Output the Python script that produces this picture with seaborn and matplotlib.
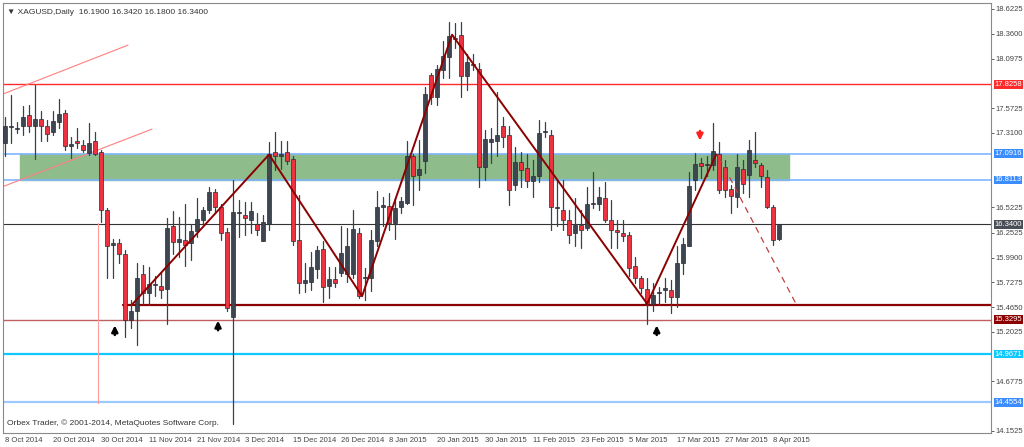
import numpy as np
import pandas as pd
import seaborn as sns
from matplotlib import pyplot as plt

# daily XAGUSD candles, 8 Oct 2014 - 10 Apr 2015
opens = [17.20, 17.37, 17.35, 17.38, 17.50, 17.38, 17.46, 17.38, 17.32, 17.43, 17.52, 17.17, 17.22, 17.18, 17.10, 17.22,
         17.11, 16.49, 16.12, 16.14, 16.03, 15.33, 15.42, 15.81, 15.61, 15.70, 15.69, 15.66, 16.32, 16.15, 16.18, 16.14,
         16.27, 16.39, 16.49, 16.68, 16.52, 16.26, 15.36, 16.46, 16.44, 16.39, 16.34, 16.16, 16.35, 17.11, 17.06, 17.11,
         17.03, 16.18, 15.72, 15.73, 15.87, 16.08, 15.69, 15.76, 15.83, 15.82, 15.82, 16.25, 15.77, 15.77, 16.16, 16.53,
         16.54, 16.36, 16.53, 16.57, 17.07, 16.86, 17.01, 17.92, 17.69, 17.98, 18.11, 18.30, 18.35, 17.91, 18.03, 17.99,
         16.95, 17.21, 17.22, 17.38, 17.29, 16.76, 17.00, 16.94, 16.80, 16.85, 17.32, 17.29, 16.51, 16.49, 16.39, 16.25,
         16.33, 16.30, 16.56, 16.56, 16.62, 16.39, 16.28, 16.25, 16.23, 15.90, 15.77, 15.66, 15.50, 15.61, 15.65, 15.65,
         15.57, 15.93, 16.11, 16.81, 16.99, 16.97, 16.97, 17.09, 16.95, 16.72, 16.63, 16.93, 16.86, 17.02, 16.97, 16.84,
         16.52, 16.19]
closes = [17.38, 17.37, 17.35, 17.48, 17.38, 17.46, 17.38, 17.30, 17.44, 17.51, 17.17, 17.19, 17.20, 17.13, 17.20, 17.09,
          16.49, 16.11, 16.14, 16.03, 15.33, 15.42, 15.77, 15.61, 15.71, 15.70, 15.65, 16.30, 16.15, 16.19, 16.12, 16.27,
          16.40, 16.49, 16.68, 16.52, 16.25, 15.45, 16.47, 16.46, 16.41, 16.48, 16.28, 16.37, 17.09, 17.06, 17.09, 17.01,
          16.16, 15.72, 15.75, 15.89, 16.07, 15.68, 15.76, 15.72, 16.04, 16.11, 16.29, 15.58, 15.77, 16.18, 16.53, 16.53,
          16.36, 16.51, 16.59, 17.06, 16.85, 16.93, 17.72, 17.69, 17.99, 18.12, 18.34, 18.30, 17.91, 18.06, 18.03, 16.95,
          17.25, 17.25, 17.29, 17.27, 16.71, 17.00, 16.92, 16.80, 16.85, 17.31, 17.32, 16.53, 16.51, 16.39, 16.23, 16.33,
          16.28, 16.56, 16.56, 16.63, 16.39, 16.28, 16.26, 16.22, 15.88, 15.77, 15.67, 15.50, 15.59, 15.61, 15.65, 15.57,
          15.93, 16.13, 16.75, 16.98, 16.96, 16.97, 17.12, 16.70, 16.70, 16.64, 16.95, 16.77, 17.13, 16.99, 16.85, 16.52,
          16.18, 16.34]
highs = [17.48, 17.71, 17.43, 17.59, 17.61, 17.82, 17.54, 17.45, 17.54, 17.67, 17.55, 17.27, 17.36, 17.23, 17.41, 17.32,
         17.13, 16.51, 16.19, 16.19, 16.07, 15.54, 15.93, 15.91, 15.89, 15.79, 15.84, 16.41, 16.48, 16.42, 16.56, 16.35,
         16.62, 16.53, 16.74, 16.72, 16.56, 16.30, 16.81, 16.60, 16.58, 16.58, 16.46, 16.44, 17.21, 17.32, 17.22, 17.22,
         17.06, 16.65, 15.93, 16.05, 16.11, 16.16, 15.89, 15.89, 16.32, 16.30, 16.49, 16.30, 15.88, 16.28, 16.69, 16.63,
         16.67, 16.62, 16.63, 17.22, 17.09, 17.23, 17.80, 17.94, 18.03, 18.28, 18.49, 18.47, 18.48, 18.15, 18.15, 18.05,
         17.34, 17.36, 17.74, 17.48, 17.38, 17.16, 17.11, 17.09, 17.02, 17.45, 17.43, 17.34, 16.81, 16.81, 16.49, 16.62,
         16.49, 16.74, 16.90, 16.74, 16.79, 16.60, 16.39, 16.39, 16.26, 16.00, 15.79, 15.77, 15.72, 15.68, 15.77, 15.75,
         16.11, 16.20, 16.90, 17.10, 17.04, 17.06, 17.42, 17.21, 17.02, 16.76, 17.09, 17.02, 17.23, 17.32, 16.99, 16.92,
         16.55, 16.342]
lows = [17.07, 17.20, 17.31, 17.29, 17.32, 17.03, 17.22, 17.22, 17.29, 17.36, 17.13, 17.04, 17.15, 17.11, 17.08, 17.08,
        16.37, 15.77, 15.77, 15.93, 15.15, 15.24, 15.06, 15.50, 15.49, 15.58, 15.56, 15.29, 16.03, 16.00, 15.90, 15.96,
        16.21, 16.35, 16.46, 16.46, 16.18, 15.42, 14.23, 16.21, 16.23, 16.25, 16.23, 16.16, 16.28, 16.92, 16.93, 16.98,
        16.12, 15.61, 15.62, 15.65, 15.77, 15.52, 15.56, 15.68, 15.79, 15.73, 15.77, 15.56, 15.54, 15.63, 16.11, 16.32,
        16.28, 16.19, 16.46, 16.56, 16.55, 16.70, 16.88, 17.62, 17.61, 17.89, 17.89, 18.21, 17.69, 17.76, 17.98, 16.74,
        16.81, 16.99, 17.06, 17.16, 16.55, 16.70, 16.74, 16.74, 16.63, 16.79, 17.27, 16.28, 16.32, 16.28, 16.14, 16.11,
        16.09, 16.28, 16.51, 16.49, 16.37, 16.09, 16.09, 16.16, 15.79, 15.72, 15.61, 15.29, 15.42, 15.49, 15.52, 15.40,
        15.47, 15.82, 16.11, 16.70, 16.83, 16.85, 16.92, 16.67, 16.63, 16.46, 16.53, 16.67, 16.63, 16.95, 16.74, 16.51,
        16.12, 16.18]

holidays = ['2014-12-25', '2015-01-01']
dates = [d for d in pd.bdate_range('2014-10-08', '2015-04-10') if d.strftime('%Y-%m-%d') not in holidays][:len(closes)]

# horizontal levels: (price, colour, width, label box colour)
levels = [(17.8258, '#ff2a2a', 1.0, '#ff2a2a'),
          (17.0916, '#7fb5ff', 1.2, '#3b8cff'),
          (16.8113, '#7fb5ff', 1.2, '#3b8cff'),
          (16.3400, '#333333', 0.8, '#4a4f57'),
          (15.3295, '#c06060', 1.0, '#8b0000'),
          (14.9671, '#10c8ff', 1.6, '#10c8ff'),
          (14.4554, '#9ccaff', 1.6, '#3b8cff')]
axis_ticks = [18.6225, 18.3600, 18.0975, 17.5725, 17.3100, 16.5225, 16.2525, 15.9900,
              15.7275, 15.4650, 15.2025, 14.6775, 14.1525]
zigzag_x = [21.3, 44, 59.5, 74.5, 107, 118.5]
zigzag_y = [15.50, 17.08, 15.58, 18.35, 15.50, 17.08]

df = pd.DataFrame({'Date': dates, 'Open': opens, 'High': highs, 'Low': lows, 'Close': closes})
df['i'] = np.arange(len(df))
df['bull'] = df['Close'] >= df['Open']

sns.set_style('white')
plt.rcParams['font.family'] = ['Liberation Sans', 'DejaVu Sans']
fig = plt.figure(figsize=(10.24, 4.47), dpi=100)
ax = fig.add_axes([3/1024, 14/447, 988/1024, 430/447])
ax.set_xlim(-0.33, 164.3)
ax.set_ylim(14.131, 18.686)

# support/resistance zone and levels
ax.fill_between([2.5, 130.7], 16.8113, 17.0916, color='#8fbc8b', zorder=1)
for price, col, lw, _ in levels:
    ax.axhline(price, color=col, lw=lw, zorder=2)
ax.plot([19.7, 164.3], [15.49, 15.49], color='#8b0000', lw=1.6, zorder=2)
ax.plot([-0.8, 20.5], [17.71, 18.24], color='#ff8080', lw=0.8, zorder=2)
ax.plot([-0.8, 24.5], [16.73, 17.35], color='#ff8080', lw=0.8, zorder=2)
ax.plot([15.5, 15.5], [16.36, 14.45], color='#ff9c9c', lw=0.8, zorder=2)

# candles
for _, r in df.iterrows():
    ax.plot([r['i'], r['i']], [r['Low'], r['High']], color='#3c4048', lw=0.9, zorder=3)
body_bottom = df[['Open', 'Close']].min(axis=1)
body_height = (df['Close'] - df['Open']).abs().clip(lower=0.012)
ax.bar(df['i'], body_height, bottom=body_bottom, width=0.68,
       color=np.where(df['bull'], '#3e4651', '#ee3340'), edgecolor='#2a2e34', lw=0.5, zorder=4)

# wave lines
sns.lineplot(x=zigzag_x, y=zigzag_y, color='#8b0000', lw=1.4, ax=ax, zorder=5, sort=False)
ax.plot([119, 131.8], [17.05, 15.50], color='#c04040', lw=0.9, ls=(0, (5, 4)), zorder=5)

# arrows
for xa, ya in [(18.3, 15.16), (35.5, 15.21), (108.6, 15.16)]:
    ax.annotate('', xy=(xa, ya + 0.14), xytext=(xa, ya - 0.02),
                arrowprops=dict(arrowstyle='-|>', color='black', lw=1.8, mutation_scale=9), zorder=6)
ax.annotate('', xy=(115.8, 17.20), xytext=(115.8, 17.36),
            arrowprops=dict(arrowstyle='-|>', color='#ff2020', lw=1.8, mutation_scale=9), zorder=6)

# axes styling
for s in ax.spines.values():
    s.set_color('#8a8a8a')
    s.set_linewidth(0.8)
ax.yaxis.tick_right()
ax.set_yticks(axis_ticks)
ax.set_yticklabels([f'{t:.4f}' for t in axis_ticks])
ticks_idx = list(range(0, len(df), 8))
ax.set_xticks(ticks_idx)
ax.set_xticklabels([f"{dates[k].day} {dates[k].strftime('%b %Y')}" for k in ticks_idx], ha='left')
ax.tick_params(axis='both', labelsize=5.5, colors='#444444', length=2, width=0.6, direction='out', pad=1)
for price, _, _, box in levels:
    ax.text(1.0035, price, f'{price:.4f}', transform=ax.get_yaxis_transform(), fontsize=5.5, color='white',
            va='center', ha='left', bbox=dict(boxstyle='square,pad=0.12', fc=box, ec='none'), zorder=7, clip_on=False)

ax.text(0.004, 0.985, '▼ XAGUSD,Daily  16.1900 16.3420 16.1800 16.3400', transform=ax.transAxes,
        fontsize=6, color='#333333', va='top')
ax.text(0.004, 0.015, 'Orbex Trader, © 2001-2014, MetaQuotes Software Corp.', transform=ax.transAxes,
        fontsize=6, color='#333333', va='bottom')

fig.savefig('out.png', dpi=100)
